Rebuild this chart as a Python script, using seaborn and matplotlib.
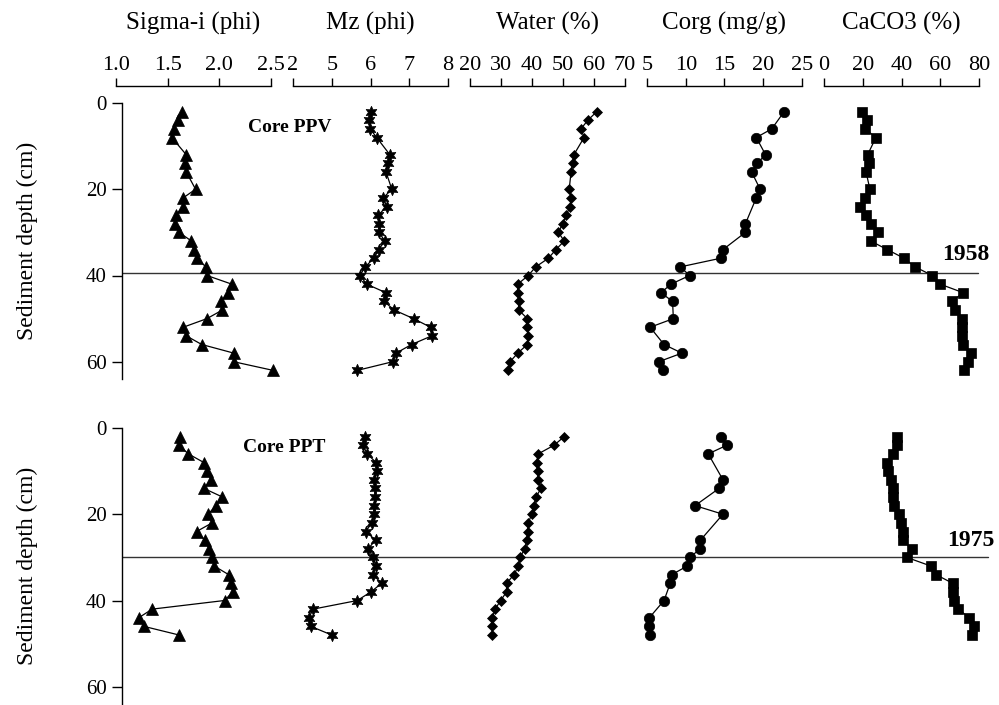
import matplotlib
matplotlib.use("Agg")
import matplotlib.pyplot as plt
import seaborn as sns
import pandas as pd

# ---------------- data ----------------
# Core PPV (top)
ppv_depth = [2, 4, 6, 8, 12, 14, 16, 20, 22, 24, 26, 28, 30, 32, 34, 36, 38, 40,
             42, 44, 46, 48, 50, 52, 54, 56, 58, 60, 62]
ppv_sigma = [1.64, 1.60, 1.56, 1.54, 1.68, 1.67, 1.68, 1.77, 1.65, 1.65, 1.58, 1.57,
             1.61, 1.73, 1.75, 1.78, 1.87, 1.88, 2.12, 2.08, 2.02, 2.03, 1.88, 1.65,
             1.68, 1.83, 2.14, 2.14, 2.52]
ppv_mz = [6.00, 5.97, 5.99, 6.16, 6.50, 6.46, 6.40, 6.55, 6.33, 6.42, 6.20, 6.23,
          6.22, 6.37, 6.21, 6.09, 5.86, 5.73, 5.90, 6.40, 6.35, 6.61, 7.11, 7.55,
          7.58, 7.06, 6.66, 6.57, 5.66]
ppv_water = [60.9, 58.0, 55.8, 56.8, 53.5, 53.1, 52.6, 52.0, 52.6, 52.3, 51.0, 49.9,
             48.5, 50.4, 47.7, 45.3, 41.2, 38.8, 35.4, 35.4, 35.7, 35.7, 38.5, 38.5,
             38.8, 38.5, 35.4, 32.9, 32.4]
ppv_corg_depth = [2, 6, 8, 12, 14, 16, 20, 22, 28, 30, 34, 36, 38, 40, 42, 44, 46,
                  50, 52, 56, 58, 60, 62]
ppv_corg = [22.7, 21.1, 19.1, 20.3, 19.2, 18.5, 19.6, 19.1, 17.7, 17.7, 14.8, 14.5,
            9.3, 10.5, 8.1, 6.8, 8.3, 8.4, 5.4, 7.2, 9.5, 6.5, 7.0]
ppv_caco3_depth = [2, 4, 6, 8, 12, 14, 16, 20, 22, 24, 26, 28, 30, 32, 34, 36, 38,
                   40, 42, 44, 46, 48, 50, 52, 54, 56, 58, 60, 62]
ppv_caco3 = [19.8, 22.0, 21.2, 26.8, 22.5, 23.4, 21.7, 23.7, 21.2, 18.6, 21.7, 24.3,
             28.0, 24.1, 32.7, 41.3, 47.0, 55.9, 59.9, 71.9, 65.9, 67.6, 71.4, 71.4,
             71.4, 71.9, 75.7, 74.5, 72.2]

# Core PPT (bottom)
ppt_depth = [2, 4, 6, 8, 10, 12, 14, 16, 18, 20, 22, 24, 26, 28, 30, 32, 34, 36,
             38, 40, 42, 44, 46, 48]
ppt_sigma = [1.62, 1.61, 1.70, 1.85, 1.88, 1.92, 1.85, 2.03, 1.97, 1.89, 1.93, 1.78,
             1.86, 1.90, 1.93, 1.95, 2.09, 2.11, 2.13, 2.05, 1.35, 1.22, 1.27, 1.61]
ppt_mz = [5.86, 5.80, 5.92, 6.14, 6.16, 6.10, 6.12, 6.12, 6.10, 6.10, 6.03, 5.88,
          6.13, 5.94, 6.07, 6.14, 6.06, 6.29, 6.01, 5.66, 4.52, 4.41, 4.46, 5.00]
ppt_water = [50.4, 47.1, 42.0, 41.5, 41.8, 42.0, 42.9, 41.3, 40.6, 39.9, 38.8, 38.6,
             38.3, 37.7, 36.1, 35.6, 34.2, 31.8, 31.8, 29.9, 28.1, 27.2, 27.2, 27.2]
ppt_corg_depth = [2, 4, 6, 12, 14, 18, 20, 26, 28, 30, 32, 34, 36, 40, 44, 46, 48]
ppt_corg = [14.5, 15.3, 12.9, 14.8, 14.3, 11.2, 14.8, 11.9, 11.9, 10.5, 10.2, 8.2,
            8.0, 7.2, 5.3, 5.3, 5.4]
ppt_caco3 = [37.8, 37.5, 35.8, 32.7, 33.2, 34.4, 35.4, 35.8, 36.1, 38.9, 39.6, 40.9,
             40.6, 45.2, 42.7, 55.1, 57.8, 66.4, 66.8, 67.1, 69.3, 75.0, 77.4, 76.2]

titles = ["Sigma-i (phi)", "Mz (phi)", "Water (%)", "Corg (mg/g)", "CaCO3 (%)"]
tick_values = [[1.0, 1.5, 2.0, 2.5], [4, 5, 6, 7, 8], [20, 30, 40, 50, 60, 70],
               [5, 10, 15, 20, 25], [0, 20, 40, 60, 80]]
tick_labels = [["1.0", "1.5", "2.0", "2.5"], ["2", "5", "6", "7", "8"],
               ["20", "30", "40", "50", "60", "70"], ["5", "10", "15", "20", "25"],
               ["0", "20", "40", "60", "80"]]
depth_ticks = [0, 20, 40, 60]
core_names = ["Core PPV", "Core PPT"]
marker_years = ["1958", "1975"]
marker_depths = [39.5, 30.0]
depth_label = "Sediment depth (cm)"

# --------------- layout ----------------
sns.set_theme(style="ticks")
plt.rcParams['font.family'] = ['Liberation Serif', 'DejaVu Serif']

W, H = 999, 705
fig = plt.figure(figsize=(W / 100, H / 100), dpi=100)

def fx(px):
    return px / W

def fy(py):
    return 1 - py / H

col_px = [(116, 271), (293, 448), (470, 625), (647, 802), (824, 979)]
row_px = [(103, 379), (428, 704)]
markers = ['^', (6, 1, 0), 'D', 'o', 's']
msizes = [8.5, 9, 5.5, 7.5, 6.5]

rows = [
    [(ppv_sigma, ppv_depth), (ppv_mz, ppv_depth), (ppv_water, ppv_depth),
     (ppv_corg, ppv_corg_depth), (ppv_caco3, ppv_caco3_depth)],
    [(ppt_sigma, ppt_depth), (ppt_mz, ppt_depth), (ppt_water, ppt_depth),
     (ppt_corg, ppt_corg_depth), (ppt_caco3, ppt_depth)],
]
line_ends = [978, 988]
year_pos = [(966, 35.2), (971, 26.0)]
core_pos = [(290, 127), (284, 448)]

for r, (y0, y1) in enumerate(row_px):
    base = fig.add_axes([fx(122), fy(y1), fx(990) - fx(122), (y1 - y0) / H])
    base.set_facecolor('none')
    base.set_ylim(64, 0)
    base.set_xlim(0, 1)
    for s in ['top', 'right', 'bottom']:
        base.spines[s].set_visible(False)
    base.spines['left'].set_linewidth(1.0)
    base.spines['left'].set_color('black')
    base.set_xticks([])
    base.set_yticks(depth_ticks)
    base.set_yticklabels([str(v) for v in depth_ticks])
    base.tick_params(axis='y', length=7, width=1.0, pad=4, labelsize=15,
                     color='black', labelcolor='black')
    fig.text(fx(27), fy((y0 + y1) / 2), depth_label, rotation=90, ha='center',
             va='center', fontsize=17, color='black')
    base.axhline(marker_depths[r], xmin=0, xmax=(line_ends[r] - 122) / (990 - 122),
                 color='#333333', linewidth=1.0)
    base.text((year_pos[r][0] - 122) / (990 - 122), year_pos[r][1], marker_years[r],
              transform=base.get_yaxis_transform(), ha='center', va='center',
              fontsize=17, fontweight='bold', color='black')
    fig.text(fx(core_pos[r][0]), fy(core_pos[r][1]), core_names[r],
             ha='center', va='center', fontsize=14, fontweight='bold', color='black')

    for c, (xl, xr) in enumerate(col_px):
        ax = fig.add_axes([fx(xl), fy(y1), (xr - xl) / W, (y1 - y0) / H])
        ax.set_facecolor('none')
        ax.set_ylim(64, 0)
        ax.set_xlim(tick_values[c][0], tick_values[c][-1])
        vals, depths = rows[r][c]
        df = pd.DataFrame({"value": vals, "depth": depths})
        sns.lineplot(data=df, x="value", y="depth", ax=ax, sort=False, estimator=None,
                     color='black', linewidth=0.9, marker=markers[c],
                     markersize=msizes[c], markeredgecolor='black',
                     markerfacecolor='black', markeredgewidth=0.5, clip_on=False,
                     legend=False)
        ax.set_ylabel("")
        ax.set_yticks([])
        for s in ['right', 'bottom', 'left']:
            ax.spines[s].set_visible(False)
        if r == 0:
            ax.spines['top'].set_position(('outward', 12.2))
            ax.spines['top'].set_linewidth(1.0)
            ax.spines['top'].set_color('black')
            ax.xaxis.set_ticks_position('top')
            ax.set_xticks(tick_values[c])
            ax.set_xticklabels(tick_labels[c])
            ax.tick_params(axis='x', direction='out', length=6, width=1.0, pad=2,
                           labelsize=16, color='black', labelcolor='black')
            ax.xaxis.set_label_position('top')
            ax.set_xlabel(titles[c], fontsize=18, labelpad=19, color='black')
        else:
            ax.spines['top'].set_visible(False)
            ax.set_xticks([])
            ax.set_xlabel("")

fig.savefig("out.png", dpi=100)
